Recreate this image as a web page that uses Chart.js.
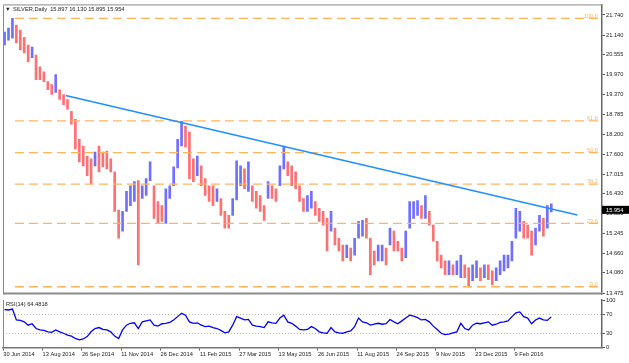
<!DOCTYPE html>
<html>
<head>
<meta charset="utf-8">
<script src="https://cdn.jsdelivr.net/npm/chart.js@4.4.1/dist/chart.umd.min.js"></script>
<style>
  html, body { margin: 0; padding: 0; background: #fff; }
  #wrap { position: relative; width: 629px; height: 363px; overflow: hidden; }
  #priceChart { position: absolute; left: 0; top: 0; }
  #rsiChart { position: absolute; left: 0; top: 292px; }
</style>
</head>
<body>
<div id="wrap">
  <canvas id="priceChart" width="629" height="299"></canvas>
  <canvas id="rsiChart" width="629" height="71"></canvas>
</div>
<script>
// SILVER daily, one bar per 3 trading days (day 0 = 30 Jun 2014)
const dayStep = 3;
const highs = [
  21.23, 21.35, 21.64, 21.44, 21.29, 21.08, 20.85, 20.79, 20.55, 20.20,
  20.05, 19.76, 19.67, 19.97, 19.52, 19.38, 19.23, 18.88, 18.64, 18.05,
  17.85, 17.55, 17.47, 17.67, 17.85, 17.67, 17.70, 17.47, 17.08, 15.95,
  15.91, 16.50, 16.67, 16.79, 16.82, 16.67, 16.88, 17.38, 16.67, 16.20,
  16.08, 16.58, 16.67, 17.23, 18.05, 18.58, 18.44, 18.26, 17.47, 17.55,
  17.26, 16.88, 16.67, 16.67, 16.58, 16.29, 15.91, 15.79, 16.29, 17.41,
  17.26, 17.17, 17.38, 16.67, 16.50, 16.38, 16.08, 16.79, 16.67, 16.58,
  17.26, 17.85, 17.38, 17.26, 17.08, 16.67, 16.29, 16.38, 16.50, 16.20,
  16.00, 15.91, 15.70, 15.91, 15.41, 15.11, 14.91, 14.91, 14.82, 15.11,
  15.61, 15.64, 15.70, 15.11, 14.73, 14.91, 14.91, 14.82, 15.41, 15.32,
  15.02, 14.82, 15.32, 16.20, 16.20, 16.23, 16.08, 16.38, 15.91, 15.50,
  15.02, 14.61, 14.44, 14.44, 14.32, 14.44, 14.61, 14.32, 14.23, 14.32,
  14.44, 14.23, 14.32, 14.32, 14.14, 14.23, 14.44, 14.61, 14.61, 15.02,
  16.00, 15.91, 15.61, 15.50, 15.32, 15.41, 15.79, 15.70, 16.08, 16.13
];
const lows = [
  20.85, 20.99, 21.05, 20.91, 20.70, 20.61, 20.35, 20.47, 19.82, 19.82,
  19.76, 19.52, 19.38, 19.44, 19.23, 19.08, 18.94, 18.50, 17.76, 17.38,
  17.26, 16.97, 16.73, 17.26, 17.08, 17.23, 17.17, 17.08, 15.91, 15.11,
  15.32, 15.91, 16.08, 16.20, 14.32, 16.29, 16.38, 16.82, 15.70, 15.55,
  15.61, 15.55, 16.29, 16.67, 17.20, 17.85, 17.82, 16.88, 16.79, 16.97,
  16.67, 16.38, 16.20, 16.08, 16.20, 15.79, 15.41, 15.41, 15.79, 16.25,
  16.67, 16.58, 16.50, 16.20, 16.00, 15.91, 15.64, 16.29, 16.29, 16.20,
  16.67, 17.17, 16.97, 16.67, 16.58, 16.20, 15.91, 15.91, 16.00, 15.79,
  15.61, 15.50, 14.73, 15.32, 14.91, 14.73, 14.44, 14.53, 14.44, 14.61,
  15.11, 15.17, 15.11, 14.03, 14.32, 14.44, 14.44, 14.32, 14.91, 14.73,
  14.73, 14.44, 14.53, 15.41, 15.70, 15.79, 15.70, 15.70, 15.50, 15.02,
  14.44, 14.23, 14.03, 14.03, 14.03, 14.03, 13.94, 13.94, 13.70, 13.85,
  13.94, 13.85, 13.94, 13.88, 13.73, 13.85, 14.03, 14.14, 14.23, 14.44,
  15.11, 15.32, 15.11, 15.11, 14.61, 14.91, 15.32, 15.17, 15.41, 15.895
];
const rsi = [
  80, 79, 81, 58, 57, 54, 47, 50, 40, 37,
  36, 33, 32, 37, 33, 30, 26, 24, 19, 16,
  18, 23, 33, 40, 42, 38, 37, 33, 24, 19,
  37, 47, 51, 52, 40, 54, 56, 58, 47, 45,
  50, 51, 53, 58, 65, 72, 68, 54, 51, 52,
  47, 44, 45, 42, 40, 36, 31, 33, 47, 65,
  62, 58, 59, 47, 45, 44, 42, 54, 52, 51,
  62, 68, 54, 51, 45, 38, 37, 38, 44, 40,
  33, 31, 30, 42, 33, 31, 30, 33, 35, 44,
  62, 54, 52, 47, 49, 51, 49, 50, 59, 54,
  50, 56, 62, 68, 66, 63, 58, 59, 54, 45,
  38, 30, 27, 28, 31, 33, 51, 40, 37, 47,
  51, 50, 52, 54, 47, 49, 53, 54, 56, 65,
  73, 75, 65, 62, 50, 58, 62, 58, 57, 64.48
];
const lastBar = [15.897, 16.130, 15.895, 15.954];
const rsiLast = 64.4818;

const priceTicks = [21.740, 21.140, 20.555, 19.970, 19.370, 18.785, 18.200, 17.600,
  17.015, 16.430, 15.850, 15.245, 14.660, 14.080, 13.475];
const dateDays = [0, 30, 60, 90, 120, 150, 180, 210, 240, 270, 300, 330, 360, 390];
const dateLabels = ['30 Jun 2014', '13 Aug 2014', '26 Sep 2014', '11 Nov 2014', '26 Dec 2014',
  '11 Feb 2015', '27 Mar 2015', '13 May 2015', '26 Jun 2015', '11 Aug 2015', '24 Sep 2015',
  '9 Nov 2015', '23 Dec 2015', '9 Feb 2016'];

// Fibonacci retracement from the July 2014 high to the Dec 2015 low
const fibPct = [100, 61.8, 50, 38.2, 23.6, 0];
const fibHigh = 21.64, fibLow = 13.67, fibStartDay = 8.9;
// descending trend line
const trendDays = [47.6, 437.9];
const trendPrices = [19.35, 15.80];

const X_MIN = -0.2, X_MAX = 456.7;
const FONT = "'Liberation Sans', Arial, sans-serif";
const BLUE = 'rgb(112,112,255)', RED = 'rgb(255,112,112)', FIB = '#ffb45c';

const bars = highs.map((h, i) => ({ x: i * dayStep + 1, y: [lows[i], h] }));
const barColors = highs.map((h, i) => {
  if (i === 0) return BLUE;
  return (h + lows[i]) >= (highs[i - 1] + lows[i - 1]) ? BLUE : RED;
});
const fibLevels = fibPct.map(p => fibLow + (fibHigh - fibLow) * p / 100);

const fibSets = fibLevels.map(v => ({
  type: 'line',
  data: [{ x: fibStartDay, y: v }, { x: X_MAX, y: v }],
  borderColor: FIB, borderWidth: 1.3, borderDash: [9, 5],
  pointRadius: 0, order: 1
}));

const pricePanel = {
  id: 'pricePanel',
  afterDraw(chart) {
    const { ctx, chartArea: a, scales: { y } } = chart;
    ctx.save();
    // fib labels
    ctx.font = '5.7px ' + FONT;
    ctx.fillStyle = FIB;
    ctx.textAlign = 'right';
    ctx.textBaseline = 'bottom';
    fibLevels.forEach((v, i) => {
      ctx.fillText(fibPct[i].toFixed(1), a.right - 4, y.getPixelForValue(v) + 0.5);
    });
    // frame
    ctx.strokeStyle = '#8a8a8a';
    ctx.lineWidth = 1;
    ctx.beginPath();
    ctx.moveTo(a.left + 0.5, a.bottom);
    ctx.lineTo(a.left + 0.5, a.top + 0.5);
    ctx.lineTo(a.right, a.top + 0.5);
    ctx.stroke();
    ctx.lineWidth = 2;
    ctx.beginPath();
    ctx.moveTo(a.left, a.bottom - 1);
    ctx.lineTo(a.right, a.bottom - 1);
    ctx.stroke();
    // header
    ctx.fillStyle = '#222';
    ctx.textAlign = 'left';
    ctx.textBaseline = 'middle';
    ctx.font = '5.7px ' + FONT;
    ctx.fillText('\u25BC', 5, 9);
    ctx.fillText('SILVER,Daily  ' + lastBar.map(v => v.toFixed(3)).join(' '), 13, 9);
    // last price tag
    const py = y.getPixelForValue(lastBar[3]);
    ctx.fillStyle = '#000';
    ctx.fillRect(a.right, py - 4, 27, 8);
    ctx.fillStyle = '#fff';
    ctx.fillText(lastBar[3].toFixed(3), a.right + 4, py + 0.5);
    ctx.restore();
  }
};

new Chart(document.getElementById('priceChart'), {
  type: 'bar',
  data: {
    datasets: [
      { type: 'bar', data: bars, backgroundColor: barColors, borderWidth: 0,
        barThickness: 2, order: 2 },
      ...fibSets,
      { type: 'line',
        data: trendDays.map((d, i) => ({ x: d, y: trendPrices[i] })),
        borderColor: '#1e90ff', borderWidth: 1.4, pointRadius: 0, order: 0 }
    ]
  },
  options: {
    responsive: false,
    animation: false,
    layout: { padding: { left: 3, top: 4, right: 0, bottom: 2 } },
    plugins: { legend: { display: false }, tooltip: { enabled: false } },
    scales: {
      x: { type: 'linear', min: X_MIN, max: X_MAX, offset: false, display: false },
      y: {
        position: 'right',
        min: 13.437, max: 22.054,
        afterFit: s => { s.width = 27; },
        afterBuildTicks: s => { s.ticks = priceTicks.map(v => ({ value: v })); },
        grid: { drawOnChartArea: false, tickLength: 3, color: '#555' },
        border: { color: '#666', width: 1.5 },
        ticks: {
          autoSkip: false, padding: 1, color: '#222',
          font: { family: FONT, size: 5.7 },
          callback: v => v.toFixed(3)
        }
      }
    }
  },
  plugins: [pricePanel]
});

const rsiPanel = {
  id: 'rsiPanel',
  afterDraw(chart) {
    const { ctx, chartArea: a } = chart;
    ctx.save();
    ctx.strokeStyle = '#8a8a8a';
    ctx.lineWidth = 1;
    ctx.beginPath();
    ctx.moveTo(a.left + 0.5, a.top);
    ctx.lineTo(a.left + 0.5, a.bottom);
    ctx.stroke();
    ctx.fillStyle = '#222';
    ctx.font = '5.7px ' + FONT;
    ctx.textBaseline = 'middle';
    ctx.fillText('RSI(14) ' + rsiLast.toFixed(4), 6, 12);
    ctx.restore();
  }
};

new Chart(document.getElementById('rsiChart'), {
  type: 'line',
  data: {
    datasets: [{
      data: rsi.map((v, i) => ({ x: i * dayStep + 1, y: v })),
      borderColor: '#0000ff', borderWidth: 1.3, pointRadius: 0, tension: 0
    }]
  },
  options: {
    responsive: false,
    animation: false,
    layout: { padding: { left: 3, top: 8, right: 0, bottom: 0 } },
    plugins: { legend: { display: false }, tooltip: { enabled: false } },
    scales: {
      x: {
        type: 'linear', min: X_MIN, max: X_MAX, offset: false,
        afterFit: s => { s.height = 15.5; },
        afterBuildTicks: s => { s.ticks = dateDays.map(v => ({ value: v })); },
        grid: { drawOnChartArea: false, tickLength: 3, color: '#555' },
        border: { color: '#777', width: 1.5 },
        ticks: {
          autoSkip: false, maxRotation: 0, align: 'start', padding: 1, color: '#222',
          font: { family: FONT, size: 5.7 },
          callback: (v, i) => dateLabels[i]
        }
      },
      y: {
        position: 'right',
        min: 0, max: 100,
        afterFit: s => { s.width = 27; },
        afterBuildTicks: s => { s.ticks = [100, 70, 30, 0].map(v => ({ value: v })); },
        grid: {
          tickLength: 3, tickColor: '#555',
          color: c => (c.tick && (c.tick.value === 70 || c.tick.value === 30)) ? '#b8b8b8' : 'rgba(0,0,0,0)'
        },
        border: { color: '#666', width: 1.5, dash: [1, 2] },
        ticks: {
          autoSkip: false, padding: 1, color: '#222',
          font: { family: FONT, size: 5.7 }
        }
      }
    }
  },
  plugins: [rsiPanel]
});
</script>
</body>
</html>
